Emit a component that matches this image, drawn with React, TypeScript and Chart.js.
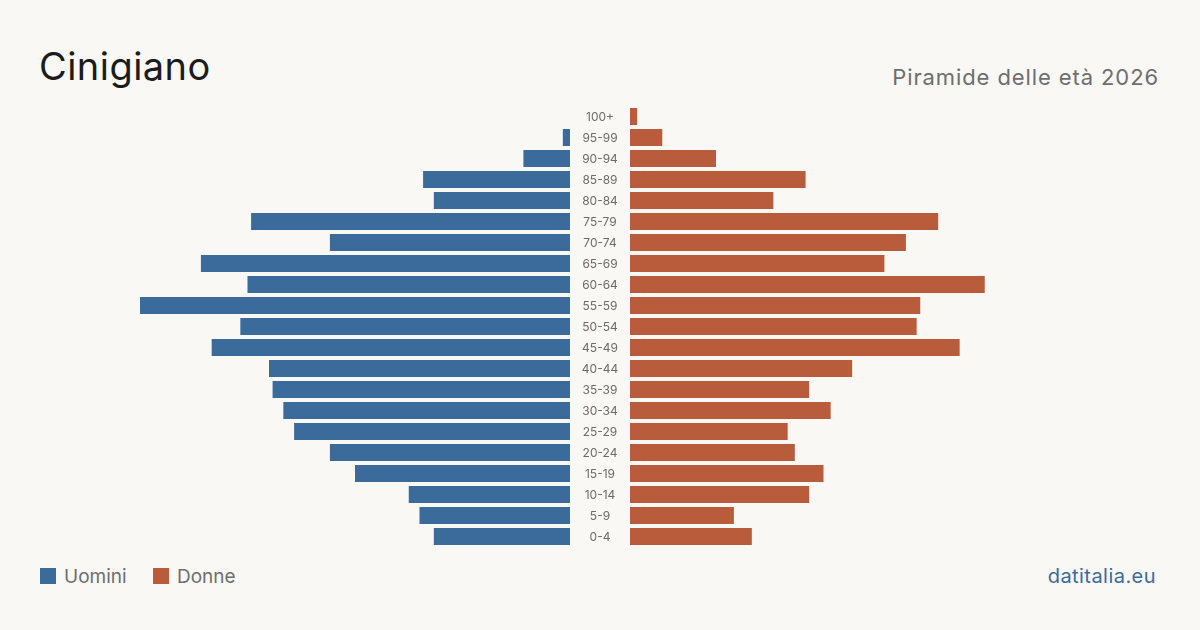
import React, { useEffect, useRef } from "react";
import { Chart, registerables } from "chart.js";

Chart.register(...registerables);

// Age groups from oldest (top) to youngest (bottom)
const ageGroups = [
  "100+", "95-99", "90-94", "85-89", "80-84", "75-79", "70-74", "65-69",
  "60-64", "55-59", "50-54", "45-49", "40-44", "35-39", "30-34", "25-29",
  "20-24", "15-19", "10-14", "5-9", "0-4",
];

// Residents per age group
const men = [0, 2, 13, 41, 38, 89, 67, 103, 90, 120, 92, 100, 84, 83, 80, 77, 67, 60, 45, 42, 38];
const women = [2, 9, 24, 49, 40, 86, 77, 71, 99, 81, 80, 92, 62, 50, 56, 44, 46, 54, 50, 29, 34];

const axisMax = 120;

const BLUE = "#3b6b9b";
const ORANGE = "#b95c3c";
const BG = "#f9f8f4";
const FONT = "Inter, 'Noto Sans', sans-serif";

// Writes the age-group labels in the gap between the two halves
const centerLabels = {
  id: "centerLabels",
  afterDraw(chart: any) {
    const { ctx, chartArea, scales } = chart;
    const y = scales.y;
    ctx.save();
    ctx.font = `12px ${FONT}`;
    ctx.fillStyle = "#6b6b6b";
    ctx.textAlign = "center";
    ctx.textBaseline = "middle";
    ageGroups.forEach((label, i) => {
      ctx.fillText(label, chartArea.left - 30, y.getPixelForValue(i) + 0.5);
    });
    ctx.restore();
  },
};

function baseOptions(reverse: boolean, padLeft: number): any {
  return {
    indexAxis: "y",
    responsive: false,
    animation: false,
    layout: { padding: { left: padLeft, right: 0, top: 0, bottom: 0 } },
    plugins: { legend: { display: false }, tooltip: { enabled: false } },
    scales: {
      x: { display: false, min: 0, max: axisMax, reverse },
      y: { display: false, offset: true },
    },
  };
}

export default function App() {
  const leftRef = useRef<HTMLCanvasElement>(null);
  const rightRef = useRef<HTMLCanvasElement>(null);

  useEffect(() => {
    document.body.style.margin = "0";
    document.body.style.background = BG;
    const ds = {
      barPercentage: 17 / 21,
      categoryPercentage: 1,
      borderWidth: 0,
    };
    const left = new Chart(leftRef.current!, {
      type: "bar",
      data: {
        labels: ageGroups,
        datasets: [{ label: "Uomini", data: men, backgroundColor: BLUE, ...ds }],
      },
      options: baseOptions(true, 0),
    });
    const right = new Chart(rightRef.current!, {
      type: "bar",
      data: {
        labels: ageGroups,
        datasets: [{ label: "Donne", data: women, backgroundColor: ORANGE, ...ds }],
      },
      options: baseOptions(false, 60),
      plugins: [centerLabels],
    });
    return () => {
      left.destroy();
      right.destroy();
    };
  }, []);

  const text = (style: React.CSSProperties, content: string) => (
    <div style={{ position: "absolute", whiteSpace: "nowrap", lineHeight: 1, fontFamily: FONT, ...style }}>
      {content}
    </div>
  );

  return (
    <div style={{ position: "fixed", left: 0, top: 0, width: 1200, height: 630, background: BG, overflow: "hidden" }}>
      {text({ left: 39, top: 47, fontSize: 38, letterSpacing: "0.45px", color: "#1c1c1c" }, "Cinigiano")}
      {text({ right: 41, top: 66, fontSize: 22, letterSpacing: "0.9px", color: "#6e6e6e" }, "Piramide delle età 2026")}

      <canvas ref={leftRef} width={430} height={441} style={{ position: "absolute", left: 140, top: 106 }} />
      <canvas ref={rightRef} width={490} height={441} style={{ position: "absolute", left: 570, top: 106 }} />

      <div style={{ position: "absolute", left: 40, top: 568, width: 16, height: 16, background: BLUE }} />
      {text({ left: 64, top: 567, fontSize: 19, color: "#6e6e6e" }, "Uomini")}
      <div style={{ position: "absolute", left: 153, top: 568, width: 16, height: 16, background: ORANGE }} />
      {text({ left: 177, top: 567, fontSize: 19, color: "#6e6e6e" }, "Donne")}

      {text({ right: 44, top: 566, fontSize: 20, letterSpacing: "0.45px", color: BLUE }, "datitalia.eu")}
    </div>
  );
}
